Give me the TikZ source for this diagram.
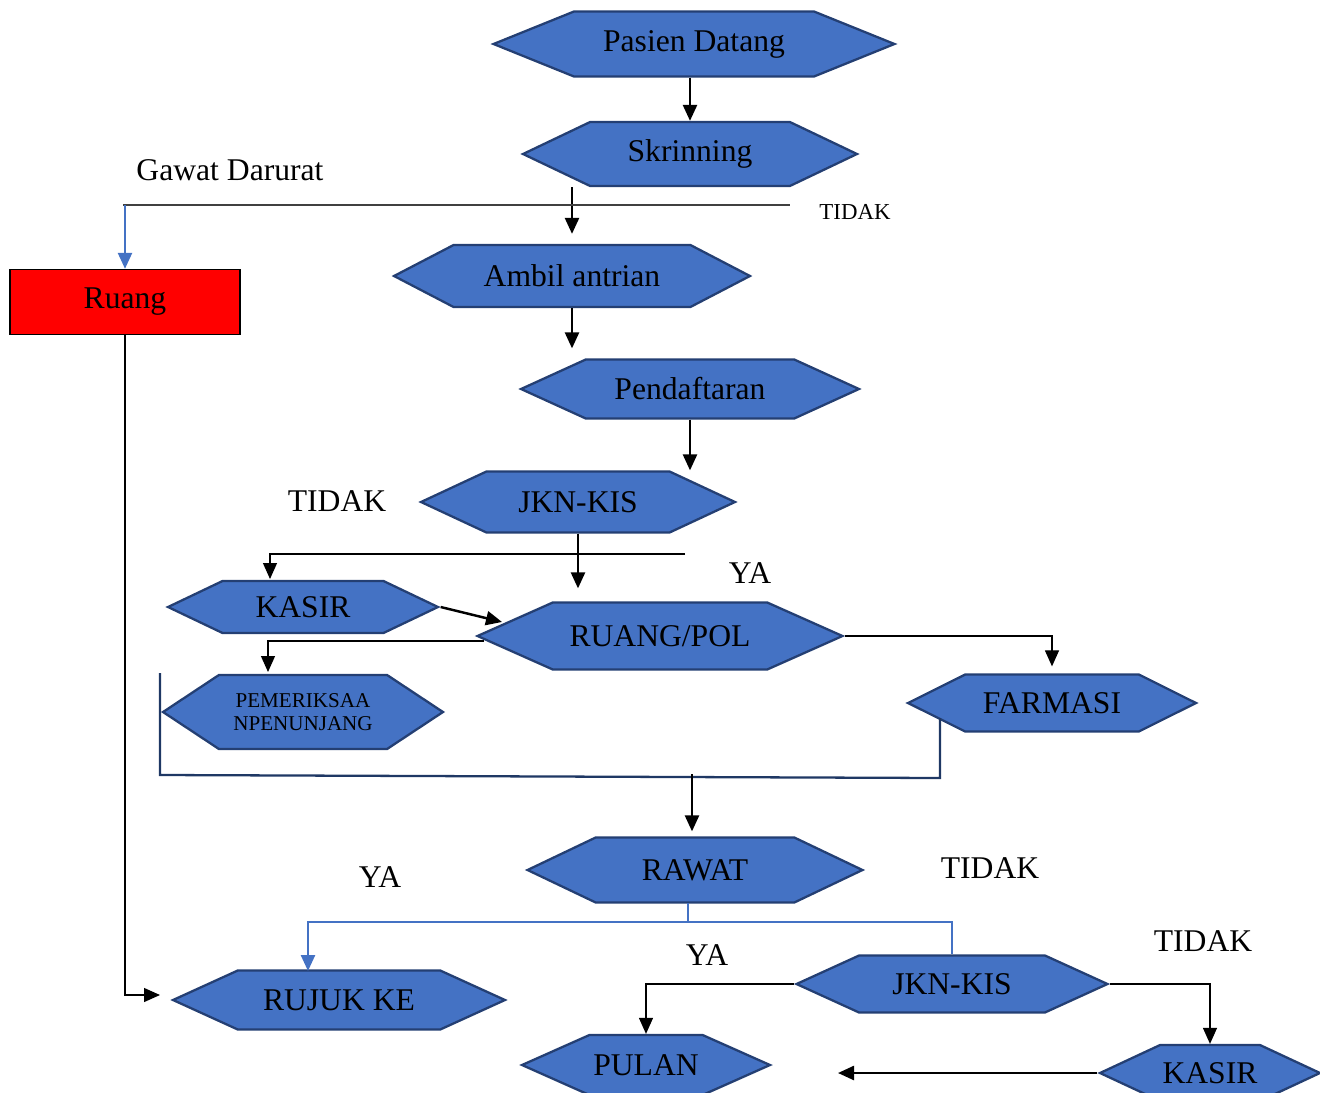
\documentclass[tikz,border=0pt]{standalone}
\usepackage{fontspec}
\setmainfont{Liberation Serif}
\usetikzlibrary{shapes.symbols,arrows.meta}
\definecolor{box-blue}{HTML}{4472C4}
\definecolor{box-edge}{HTML}{243F73}
\definecolor{line-gray}{HTML}{404040}
\definecolor{frame-navy}{HTML}{1F3864}

\tikzset{
  hexa/.style={signal, signal to=east and west, signal pointer angle=50,
    draw=box-edge, line width=1.3pt, fill=box-blue, inner sep=0pt},
  flow/.style={line width=1.4pt, -{Triangle[length=0.32cm,width=0.28cm]}},
  thinline/.style={line width=0.7pt, color=line-gray},
  blueline/.style={line width=1.4pt, color=box-blue},
}

\begin{document}
\begin{tikzpicture}[x=0.02cm, y=-0.02cm,
    every node/.style={font=\fontsize{18}{20}\selectfont}]
  \useasboundingbox (0,0) rectangle (1320,1093);

  % boxes
  \node[hexa, minimum width=8.02cm, minimum height=1.30cm,
    signal pointer angle=44] (pasien) at (694,44) {Pasien Datang};
  \node[hexa, minimum width=6.68cm, minimum height=1.28cm,
    signal pointer angle=51] (skrining) at (690,154) {Skrinning};
  \node[hexa, minimum width=7.12cm, minimum height=1.24cm,
    signal pointer angle=55] (antrian) at (572,276) {Ambil antrian};
  \node[hexa, minimum width=6.76cm, minimum height=1.18cm,
    signal pointer angle=49] (daftar) at (690,389) {Pendaftaran};
  \node[hexa, minimum width=6.28cm, minimum height=1.22cm] (jkn) at (578,502) {JKN-KIS};
  \node[hexa, minimum width=5.40cm, minimum height=1.04cm,
    signal pointer angle=51] (kasir) at (303,607) {KASIR};
  \node[hexa, minimum width=7.30cm, minimum height=1.34cm,
    signal pointer angle=48] (poli) at (660,636) {RUANG/POL};
  \node[hexa, minimum width=5.60cm, minimum height=1.48cm,
    signal pointer angle=67, align=center,
    font=\fontsize{12}{13}\selectfont] (penunjang) at (303,712) {PEMERIKSAA\\NPENUNJANG};
  \node[hexa, minimum width=5.76cm, minimum height=1.14cm,
    signal pointer angle=53] (farmasi) at (1052,703) {FARMASI};
  \node[hexa, minimum width=6.70cm, minimum height=1.30cm,
    signal pointer angle=51] (rawat) at (695,870) {RAWAT};
  \node[hexa, minimum width=6.64cm, minimum height=1.18cm,
    signal pointer angle=49] (rujuk) at (339,1000) {RUJUK KE};
  \node[hexa, minimum width=6.22cm, minimum height=1.14cm,
    signal pointer angle=49] (jkn2) at (952,984) {JKN-KIS};
  \node[hexa, minimum width=4.96cm, minimum height=1.20cm,
    signal pointer angle=48] (pulang) at (646,1065) {PULAN};
  \node[hexa, minimum width=4.40cm, minimum height=1.12cm] (kasir2) at (1210,1073) {KASIR};
  \node[draw=black, line width=0.8pt, fill=red, minimum width=4.60cm,
    minimum height=1.30cm] (ruang) at (125,302) {Ruang};

  % labels
  \node (lgawat) at (230,170) {Gawat Darurat};
  \node[font=\fontsize{13}{14}\selectfont] (ltidak1) at (855,212) {TIDAK};
  \node (ltidak2) at (337,501) {TIDAK};
  \node (lya1) at (750,573) {YA};
  \node (lya2) at (380,877) {YA};
  \node (ltidak3) at (990,868) {TIDAK};
  \node (lya3) at (707,955) {YA};
  \node (ltidak4) at (1203,941) {TIDAK};

  % free ends
  \coordinate (gawat-l) at (123,205);
  \coordinate (gawat-r) at (790,205);
  \coordinate (tidak-r) at (685,554);
  \coordinate (kasir-in) at (270,579);
  \coordinate (poli-in) at (502,622);
  \coordinate (poli-l) at (484,641);
  \coordinate (penunjang-in) at (268,672);
  \coordinate (rawat-in) at (692,774);
  \coordinate (rawat-out) at (688,903);
  \coordinate (rujuk-side) at (160,995);
  \coordinate (rujuk-in) at (308,971);
  \coordinate (pulang-r) at (838,1073);

  % connectors
  \draw[flow] (pasien.south -| skrining.north) -- (skrining.north);
  \draw[flow, shorten >=0.2cm] (skrining.south -| antrian.north) -- (antrian.north);
  \draw[thinline] (gawat-l) -- (gawat-r);
  \draw[blueline, -{Triangle[length=0.32cm,width=0.28cm]}]
    (ruang.north |- gawat-l) -- (ruang.north);
  \draw[flow, shorten >=0.2cm] (antrian.south) -- (antrian.south |- daftar.north);
  \draw[flow] (daftar.south) -- (daftar.south |- jkn.north);
  \draw[flow, shorten >=0.26cm] (jkn.south) -- (jkn.south |- poli.north);
  \draw[thinline, -{Triangle[length=0.32cm,width=0.28cm]}, color=black]
    (tidak-r) -| (kasir-in);
  \draw[flow] (kasir.east) -- (poli-in);
  \draw[thinline, color=black, -{Triangle[length=0.32cm,width=0.28cm]}]
    (poli-l) -| (penunjang-in);
  \draw[thinline, color=black, -{Triangle[length=0.32cm,width=0.28cm]},
    shorten >=0.14cm] (poli.east) -| (farmasi.north);
  \draw[line width=1.3pt, color=frame-navy]
    (160,673) -- (160,775) -- (940,778) -- (940,718);
  \draw[flow, shorten >=0.1cm] (rawat-in) -- (rawat-in |- rawat.north);
  \draw[thinline, color=black, -{Triangle[length=0.32cm,width=0.28cm]}]
    (ruang.south) -- (ruang.south |- rujuk-side) -- (rujuk-side);
  \draw[blueline, -{Triangle[length=0.32cm,width=0.28cm]}]
    (rawat-out) -- ++(0,19) -| (rujuk-in);
  \draw[blueline] (rawat-out) ++(0,19) -| (jkn2.north);
  \draw[thinline, color=black, -{Triangle[length=0.32cm,width=0.28cm]}]
    (jkn2.west) -| (pulang.north);
  \draw[thinline, color=black, -{Triangle[length=0.32cm,width=0.28cm]}]
    (jkn2.east) -| (kasir2.north);
  \draw[flow] (kasir2.west) -- (pulang-r);
\end{tikzpicture}
\end{document}
